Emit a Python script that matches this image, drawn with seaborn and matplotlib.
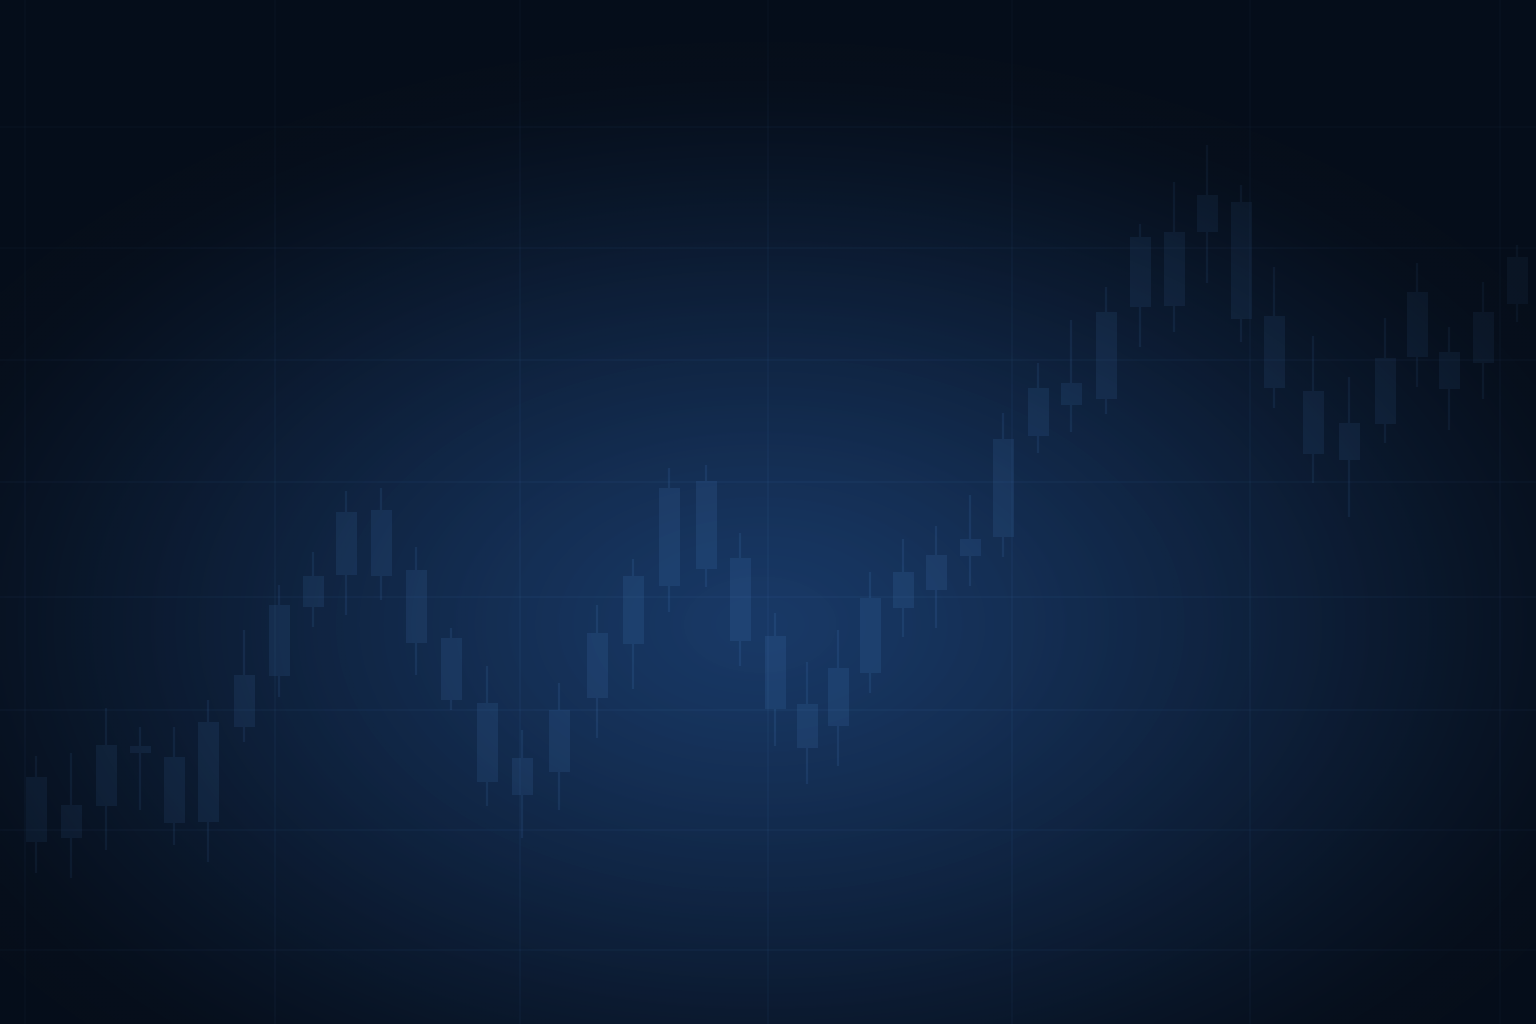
import numpy as np
import pandas as pd
import matplotlib
matplotlib.use("Agg")
import matplotlib.pyplot as plt
import seaborn as sns

# ==========================================
# DATA
# ==========================================
# time position of each candle (uneven spacing, as in the picture)
times = [36, 71, 106, 140, 174, 208, 244, 279, 313, 346, 381, 416, 451, 487, 522,
         559, 597, 633, 669, 706, 740, 775, 807, 838, 870, 903, 936, 970, 1003, 1038,
         1071, 1106, 1140, 1174, 1207, 1241, 1274, 1313, 1349, 1385, 1417, 1449, 1483, 1517]
highs = [268, 271, 316, 297, 297, 324, 394, 439, 472, 533, 536, 477, 396, 358, 294,
         341, 419, 465, 556, 559, 491, 411, 362, 394, 452, 485, 498, 529, 611, 661,
         704, 737, 800, 842, 879, 839, 757, 688, 647, 706, 761, 697, 742, 779]
lows = [151, 146, 174, 214, 179, 162, 282, 327, 397, 409, 424, 349, 314, 218, 186,
        214, 286, 335, 412, 437, 358, 278, 240, 258, 331, 387, 396, 438, 467, 571,
        592, 610, 677, 692, 741, 682, 616, 541, 507, 581, 637, 594, 625, 702]
body_top = [247, 219, 279, 278, 267, 302, 349, 419, 448, 512, 514, 454, 386, 321, 266,
            314, 391, 448, 536, 543, 466, 388, 320, 356, 426, 452, 469, 485, 585, 636,
            641, 712, 787, 792, 829, 822, 708, 633, 601, 666, 732, 672, 712, 767]
body_bottom = [182, 186, 218, 271, 201, 202, 297, 348, 417, 449, 448, 381, 324, 242, 229,
               252, 326, 380, 438, 455, 383, 315, 276, 298, 351, 416, 434, 468, 487, 588,
               619, 625, 717, 718, 792, 705, 636, 570, 564, 600, 667, 635, 661, 720]

# faint grid positions
grid_x = [25, 275, 520, 768, 1012, 1250, 1500]
grid_y = [74, 194, 314, 427, 542, 664, 776, 897]

# ==========================================
# STYLE
# ==========================================
BG_CENTER = np.array([25, 57, 102]) / 255
BG_EDGE = np.array([10, 22, 40]) / 255
SHADE = np.array([3, 8, 16]) / 255
LIGHT = '#467dbe'
CANDLE_ALPHA = 0.17
BODY_WIDTH = 21


def radial(h, w, cx=0.495, cy=0.61, rx=0.56, ry=0.53):
    yy, xx = np.mgrid[0:h, 0:w]
    nx = (xx + 0.5) / w
    ny = (yy + 0.5) / h
    return np.sqrt(((nx - cx) / rx) ** 2 + ((ny - cy) / ry) ** 2)


def main():
    df = pd.DataFrame({'t': times, 'high': highs, 'low': lows,
                       'top': body_top, 'bottom': body_bottom})

    sns.set_theme(style="dark")
    fig = plt.figure(figsize=(15.36, 10.24), dpi=100)
    ax = fig.add_axes([0, 0, 1, 1])

    x0, x1 = 0, 1536
    y0, y1 = 0, 1024
    ax.set_xlim(x0, x1)
    ax.set_ylim(y0, y1)

    # background glow
    h, w = 256, 384
    r = radial(h, w)
    t = np.clip(r, 0, 1) ** 1.2
    bg = BG_CENTER[None, None, :] * (1 - t[..., None]) + BG_EDGE[None, None, :] * t[..., None]
    ax.imshow(bg, extent=(x0, x1, y0, y1), origin='upper', aspect='auto',
              interpolation='bilinear', zorder=0)

    # faint grid
    ax.set_xticks(grid_x)
    ax.set_yticks(grid_y)
    ax.grid(True, color=LIGHT, linewidth=1.3, alpha=0.08)
    ax.set_axisbelow(False)
    for gl in ax.get_xgridlines() + ax.get_ygridlines():
        gl.set_zorder(1)
    ax.tick_params(length=0, labelbottom=False, labelleft=False)
    for s in ax.spines.values():
        s.set_visible(False)

    # candles: wicks drawn only outside the body so alpha does not stack
    ax.vlines(df['t'], df['top'], df['high'], color=LIGHT, alpha=CANDLE_ALPHA,
              linewidth=1.6, zorder=2)
    ax.vlines(df['t'], df['low'], df['bottom'], color=LIGHT, alpha=CANDLE_ALPHA,
              linewidth=1.6, zorder=2)
    ax.bar(df['t'], df['top'] - df['bottom'], bottom=df['bottom'], width=BODY_WIDTH,
           color=LIGHT, alpha=CANDLE_ALPHA, edgecolor='none', zorder=3)

    # dark vignette over everything
    v = 0.5 * np.clip(r, 0, 1.2) ** 2
    v = np.clip(v, 0, 0.58)
    rgba = np.zeros((h, w, 4))
    rgba[..., :3] = SHADE
    rgba[..., 3] = v
    ax.imshow(rgba, extent=(x0, x1, y0, y1), origin='upper', aspect='auto',
              interpolation='bilinear', zorder=5)

    fig.savefig('out.png', dpi=100)


if __name__ == '__main__':
    main()
